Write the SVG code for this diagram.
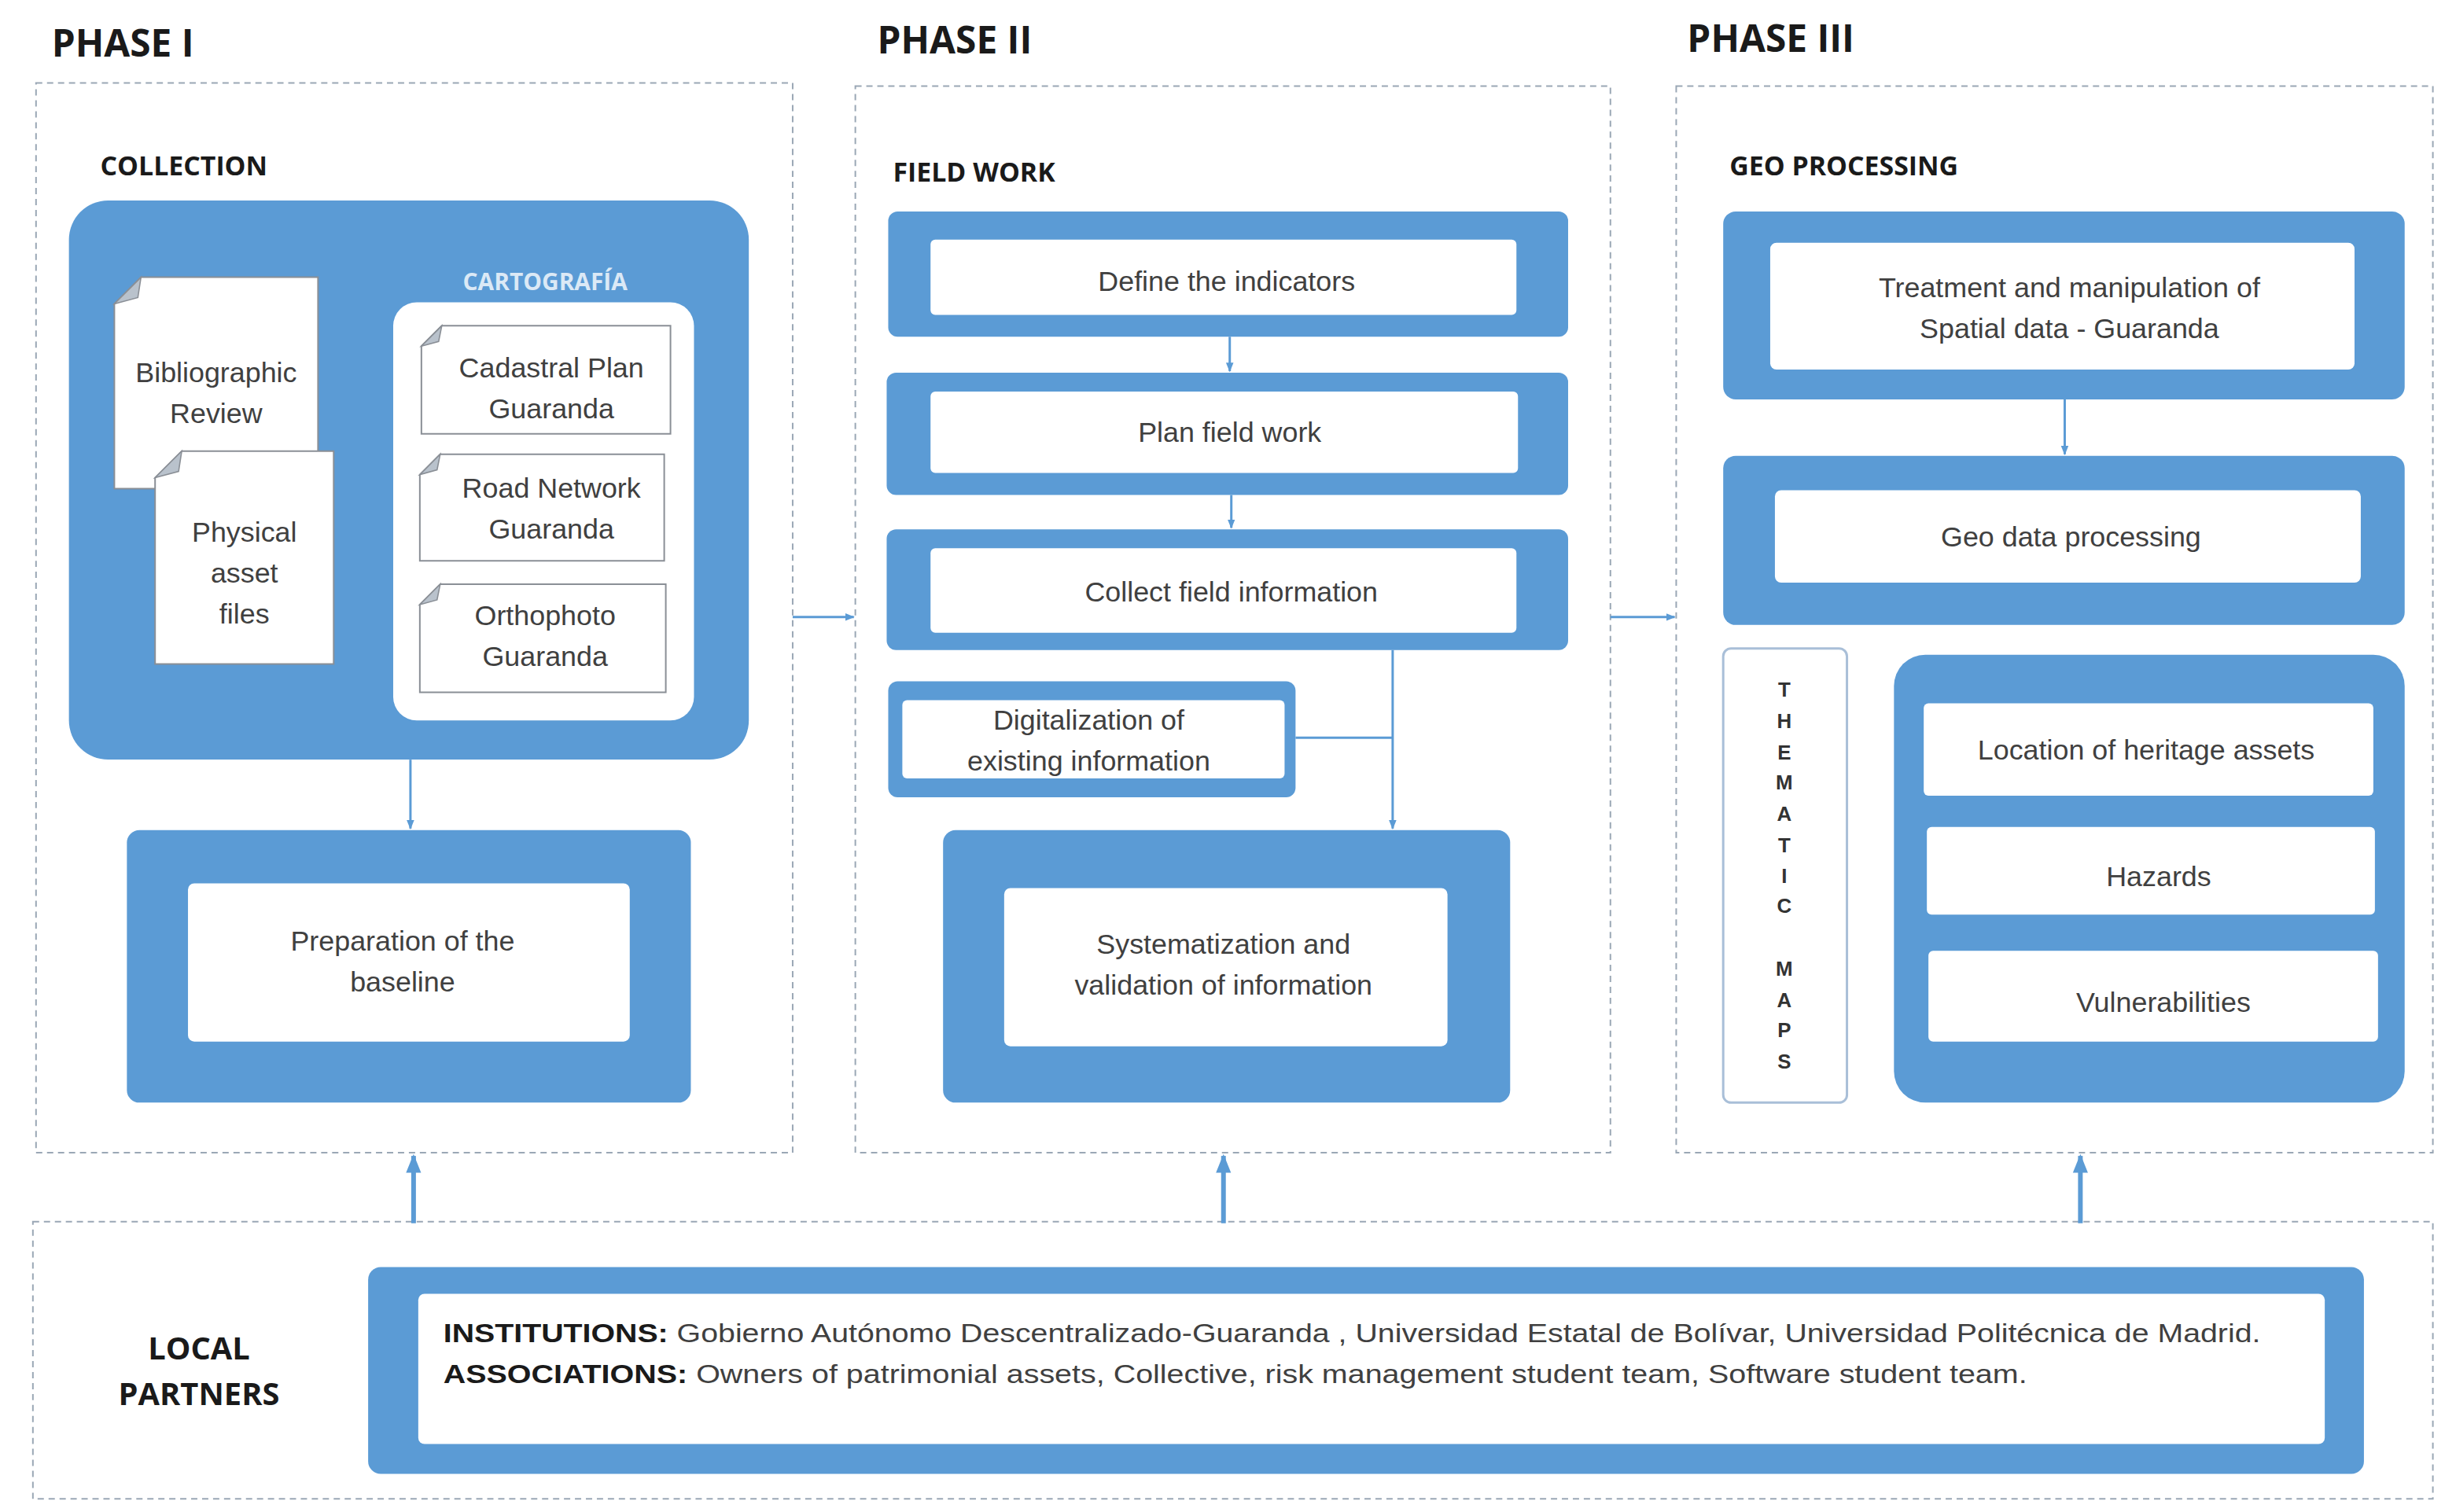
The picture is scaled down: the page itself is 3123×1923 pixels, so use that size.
<svg xmlns="http://www.w3.org/2000/svg" width="3123" height="1923" viewBox="0 0 3123 1923">
<style>
.ph{font-family:"Open Sans","Liberation Sans",sans-serif;font-weight:bold;font-size:24px;fill:#1a1a1a}
.sec{font-family:"Open Sans","Liberation Sans",sans-serif;font-weight:bold;font-size:17px;fill:#1a1a1a}
.t{font-family:"Liberation Sans","Open Sans",sans-serif;font-size:18px;fill:#404040;text-anchor:middle}
.dash{fill:none;stroke:#9aa7b5;stroke-width:1;stroke-dasharray:4 3}
.blue{fill:#5b9bd5}
.wh{fill:#ffffff}
.doc{fill:#ffffff;stroke:#8a8f96;stroke-width:1}
.fold{fill:#b9c2cc;stroke:#8a8f96;stroke-width:0.8}
.con{stroke:#5b9bd5;stroke-width:1.5;fill:none}
.big{stroke:#5b9bd5;stroke-width:3;fill:none}
.lt{font-family:"Liberation Sans","Open Sans",sans-serif;font-weight:bold;font-size:13px;fill:#333;text-anchor:middle}
</style>
<defs>
<marker id="a" viewBox="0 0 10 10" refX="9" refY="5" markerWidth="6" markerHeight="6" orient="auto"><path d="M0,1 L10,5 L0,9 z" fill="#5b9bd5"/></marker>
<marker id="b" viewBox="0 0 10 10" refX="9" refY="5" markerWidth="4" markerHeight="4" orient="auto"><path d="M0,1 L10,5 L0,9 z" fill="#5b9bd5"/></marker>
</defs>
<rect width="3123" height="1923" fill="#ffffff"/>
<g transform="scale(1.992)">
<g id="frames">
<rect class="dash" x="23" y="53" width="483" height="683"/>
<rect class="dash" x="546" y="55" width="482" height="681"/>
<rect class="dash" x="1070" y="55" width="483" height="681"/>
<rect class="dash" x="21" y="780" width="1532" height="177"/>
<text class="ph" x="33" y="36">PHASE I</text>
<text class="ph" x="560" y="34">PHASE II</text>
<text class="ph" x="1077" y="33">PHASE III</text>
<text class="sec" x="64" y="112">COLLECTION</text>
<text class="sec" x="570" y="116">FIELD WORK</text>
<text class="sec" x="1104" y="112">GEO PROCESSING</text>
</g>
<g id="connectors">
<line class="con" x1="262" y1="485" x2="262" y2="529" marker-end="url(#b)"/>
<line class="con" x1="506" y1="394" x2="545" y2="394" marker-end="url(#b)"/>
<line class="con" x1="1028" y1="394" x2="1069" y2="394" marker-end="url(#b)"/>
<line class="con" x1="785" y1="215" x2="785" y2="237" marker-end="url(#b)"/>
<line class="con" x1="786" y1="316" x2="786" y2="337" marker-end="url(#b)"/>
<line class="con" x1="889" y1="415" x2="889" y2="529" marker-end="url(#b)"/>
<line class="con" x1="827" y1="471" x2="889" y2="471"/>
<line class="con" x1="1318" y1="255" x2="1318" y2="290" marker-end="url(#b)"/>
<line class="big" x1="264" y1="781" x2="264" y2="738" marker-end="url(#b)"/>
<line class="big" x1="781" y1="781" x2="781" y2="738" marker-end="url(#b)"/>
<line class="big" x1="1328" y1="781" x2="1328" y2="738" marker-end="url(#b)"/>
</g>
<g id="collection">
<rect class="blue" x="44" y="128" width="434" height="357" rx="25"/>
<text x="348" y="185" text-anchor="middle" style="font-family:'Open Sans','Liberation Sans',sans-serif;font-weight:bold;font-size:15px;fill:#dbe9f6">CARTOGRAFÍA</text>
<rect class="wh" x="251" y="193" width="192" height="267" rx="15"/>
</g>
<g id="biblio">
<path class="doc" d="M90,177 H203 V312 H73 V194 Z"/><path class="fold" d="M90,177 L73,194 L88,190 Z"/>
<text class="t" x="138" y="244">Bibliographic</text><text class="t" x="138" y="270">Review</text>
</g>
<g id="physical">
<path class="doc" d="M116,288 H213 V424 H99 V305 Z"/><path class="fold" d="M116,288 L99,305 L114,301 Z"/>
<text class="t" x="156" y="346">Physical</text><text class="t" x="156" y="372">asset</text><text class="t" x="156" y="398">files</text>
</g>
<g id="cadastral">
<path class="doc" d="M282,208 H428 V277 H269 V221 Z"/><path class="fold" d="M282,208 L269,221 L280,218 Z"/>
<text class="t" x="352" y="241">Cadastral Plan</text><text class="t" x="352" y="267">Guaranda</text>
</g>
<g id="road">
<path class="doc" d="M281,290 H424 V358 H268 V303 Z"/><path class="fold" d="M281,290 L268,303 L279,300 Z"/>
<text class="t" x="352" y="318">Road Network</text><text class="t" x="352" y="344">Guaranda</text>
</g>
<g id="ortho">
<path class="doc" d="M281,373 H425 V442 H268 V386 Z"/><path class="fold" d="M281,373 L268,386 L279,383 Z"/>
<text class="t" x="348" y="399">Orthophoto</text><text class="t" x="348" y="425">Guaranda</text>
</g>
<g id="baseline">
<rect class="blue" x="81" y="530" width="360" height="174" rx="8"/>
<rect class="wh" x="120" y="564" width="282" height="101" rx="4"/>
<text class="t" x="257" y="607">Preparation of the</text><text class="t" x="257" y="633">baseline</text>
</g>
<g id="define">
<rect class="blue" x="567" y="135" width="434" height="80" rx="6"/>
<rect class="wh" x="594" y="153" width="374" height="48" rx="3"/>
<text class="t" x="783" y="186">Define the indicators</text>
</g>
<g id="plan">
<rect class="blue" x="566" y="238" width="435" height="78" rx="6"/>
<rect class="wh" x="594" y="250" width="375" height="52" rx="3"/>
<text class="t" x="785" y="282">Plan field work</text>
</g>
<g id="collect">
<rect class="blue" x="566" y="338" width="435" height="77" rx="6"/>
<rect class="wh" x="594" y="350" width="374" height="54" rx="3"/>
<text class="t" x="786" y="384">Collect field information</text>
</g>
<g id="digital">
<rect class="blue" x="567" y="435" width="260" height="74" rx="6"/>
<rect class="wh" x="576" y="447" width="244" height="50" rx="3"/>
<text class="t" x="695" y="466">Digitalization of</text><text class="t" x="695" y="492">existing information</text>
</g>
<g id="system">
<rect class="blue" x="602" y="530" width="362" height="174" rx="8"/>
<rect class="wh" x="641" y="567" width="283" height="101" rx="4"/>
<text class="t" x="781" y="609">Systematization and</text><text class="t" x="781" y="635">validation of information</text>
</g>
<g id="treatment">
<rect class="blue" x="1100" y="135" width="435" height="120" rx="8"/>
<rect class="wh" x="1130" y="155" width="373" height="81" rx="4"/>
<text class="t" x="1321" y="190">Treatment and  manipulation of</text><text class="t" x="1321" y="216">Spatial data - Guaranda</text>
</g>
<g id="geodata">
<rect class="blue" x="1100" y="291" width="435" height="108" rx="8"/>
<rect class="wh" x="1133" y="313" width="374" height="59" rx="4"/>
<text class="t" x="1322" y="349">Geo data processing</text>
</g>
<g id="thematic">
<rect x="1100" y="414" width="79" height="290" rx="5" fill="#fff" stroke="#a9bfd8" stroke-width="1.5"/>
<text class="lt" x="1139" y="445">T</text><text class="lt" x="1139" y="465">H</text><text class="lt" x="1139" y="485">E</text><text class="lt" x="1139" y="504">M</text><text class="lt" x="1139" y="524">A</text><text class="lt" x="1139" y="544">T</text><text class="lt" x="1139" y="564">I</text><text class="lt" x="1139" y="583">C</text>
<text class="lt" x="1139" y="623">M</text><text class="lt" x="1139" y="643">A</text><text class="lt" x="1139" y="662">P</text><text class="lt" x="1139" y="682">S</text>
</g>
<g id="maps">
<rect class="blue" x="1209" y="418" width="326" height="286" rx="20"/>
<rect class="wh" x="1228" y="449" width="287" height="59" rx="3"/>
<text class="t" x="1370" y="485">Location of heritage assets</text>
<rect class="wh" x="1230" y="528" width="286" height="56" rx="3"/>
<text class="t" x="1378" y="566">Hazards</text>
<rect class="wh" x="1231" y="607" width="287" height="58" rx="3"/>
<text class="t" x="1381" y="646">Vulnerabilities</text>
</g>
<g id="partners">
<text x="127" y="868" text-anchor="middle" style="font-family:'Open Sans','Liberation Sans',sans-serif;font-weight:bold;font-size:20px;fill:#1a1a1a">LOCAL</text>
<text x="127" y="897" text-anchor="middle" style="font-family:'Open Sans','Liberation Sans',sans-serif;font-weight:bold;font-size:20px;fill:#1a1a1a">PARTNERS</text>
<rect class="blue" x="235" y="809" width="1274" height="132" rx="8"/>
<rect class="wh" x="267" y="826" width="1217" height="96" rx="4"/>
<text x="283" y="857" textLength="1160" lengthAdjust="spacingAndGlyphs" style="font-family:'Liberation Sans','Open Sans',sans-serif;font-size:17px;fill:#404040"><tspan font-weight="bold" fill="#1a1a1a">INSTITUTIONS:</tspan> Gobierno Autónomo Descentralizado-Guaranda , Universidad Estatal de Bolívar, Universidad Politécnica de Madrid.</text>
<text x="283" y="883" textLength="1011" lengthAdjust="spacingAndGlyphs" style="font-family:'Liberation Sans','Open Sans',sans-serif;font-size:17px;fill:#404040"><tspan font-weight="bold" fill="#1a1a1a">ASSOCIATIONS:</tspan> Owners of patrimonial assets, Collective, risk management student team, Software student team.</text>
</g>
</g>
</svg>
